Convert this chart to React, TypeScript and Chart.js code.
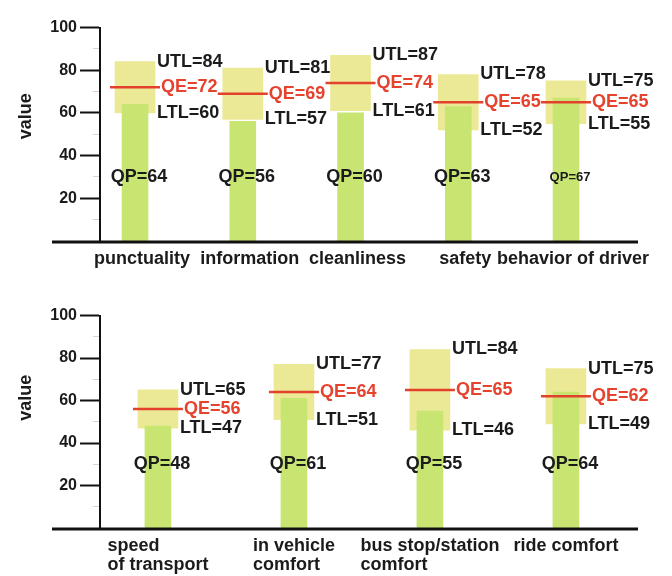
import React, { useEffect, useRef } from 'react';
import { Chart, registerables } from 'chart.js';

Chart.register(...registerables);

// ---------- data ----------
const topCategories: string[][] = [['punctuality'], ['information'], ['cleanliness'], ['safety'], ['behavior of driver']];
const topUTL = [84, 81, 87, 78, 75];
const topQE = [72, 69, 74, 65, 65];
const topLTL = [60, 57, 61, 52, 55];
const topQP = [64, 56, 60, 63, 67];

const bottomCategories: string[][] = [['speed', 'of transport'], ['in vehicle', 'comfort'], ['bus stop/station', 'comfort'], ['ride comfort']];
const bottomUTL = [65, 77, 84, 75];
const bottomQE = [56, 64, 65, 62];
const bottomLTL = [47, 51, 46, 49];
const bottomQP = [48, 61, 55, 64];

const yMajorTicks = [20, 40, 60, 80, 100];
const yMinorTicks = [10, 30, 50, 70, 90];
const yTitle = 'value';

// ---------- styles ----------
const FONT = '"Liberation Sans", Arial, Helvetica, sans-serif';
const GREEN = '#c8e572';
const YELLOW = 'rgba(228,224,110,0.72)';
const RED_LINE = '#e2412b';
const RED_TEXT = '#e6432f';
const INK = '#1b1b1b';
const QP_LABEL_LEVEL = 30;

type Spec = {
  cats: string[][];
  utl: number[];
  qe: number[];
  ltl: number[];
  qp: number[];
  qpSizes: number[];
  xMin: number;
  xMax: number;
  padTop: number;
  padBottom: number;
  titleShift: number;
  labelShift: number;
};

function makePlugin(s: Spec) {
  return {
    id: 'qualityLabels',
    afterDatasetsDraw(chart: any) {
      const { ctx, chartArea } = chart;
      const x = chart.scales.x;
      const y = chart.scales.y;
      const y0 = y.getPixelForValue(0);
      ctx.save();
      // thick base line
      ctx.strokeStyle = '#111';
      ctx.lineWidth = 3;
      ctx.beginPath();
      ctx.moveTo(chartArea.left - 48, y0 + 1);
      ctx.lineTo(chartArea.right, y0 + 1);
      ctx.stroke();

      // axis title
      ctx.save();
      ctx.translate(26, (chartArea.top + chartArea.bottom) / 2 + s.titleShift);
      ctx.rotate(-Math.PI / 2);
      ctx.textAlign = 'center';
      ctx.textBaseline = 'middle';
      ctx.font = `bold 18px ${FONT}`;
      ctx.fillStyle = INK;
      ctx.fillText(yTitle, 0, 0);
      ctx.restore();

      s.cats.forEach((lines, i) => {
        const cx = x.getPixelForValue(i + 1);
        const boxRight = cx + 20;
        ctx.textBaseline = 'middle';
        ctx.textAlign = 'left';
        ctx.font = `bold 18px ${FONT}`;
        ctx.fillStyle = INK;
        ctx.fillText(`UTL=${s.utl[i]}`, boxRight + 2, y.getPixelForValue(s.utl[i]));
        ctx.fillText(`LTL=${s.ltl[i]}`, boxRight + 2, y.getPixelForValue(s.ltl[i]));
        ctx.fillStyle = RED_TEXT;
        ctx.fillText(`QE=${s.qe[i]}`, boxRight + 6, y.getPixelForValue(s.qe[i]));
        ctx.fillStyle = INK;
        ctx.textAlign = 'center';
        ctx.font = `bold ${s.qpSizes[i]}px ${FONT}`;
        ctx.fillText(`QP=${s.qp[i]}`, cx + 4, y.getPixelForValue(QP_LABEL_LEVEL));

        // category label: block centred on the bar, lines left-aligned
        ctx.font = `bold 18px ${FONT}`;
        ctx.textBaseline = 'alphabetic';
        ctx.textAlign = 'left';
        const w = Math.max(...lines.map((l) => ctx.measureText(l).width));
        lines.forEach((l, k) => {
          ctx.fillText(l, cx - w / 2 + s.labelShift, y0 + 23 + k * 19);
        });
      });
      ctx.restore();
    },
  };
}

function makeConfig(s: Spec): any {
  return {
    type: 'bar',
    data: {
      datasets: [
        {
          type: 'scatter',
          data: s.qe.map((v, i) => ({ x: i + 1, y: v })),
          pointStyle: 'line',
          pointRadius: 25,
          borderColor: RED_LINE,
          pointBorderColor: RED_LINE,
          borderWidth: 2.5,
          pointBorderWidth: 2.5,
          order: 1,
        },
        {
          type: 'bar',
          data: s.qp.map((v, i) => ({ x: i + 1, y: [0, v] })),
          backgroundColor: GREEN,
          barThickness: 26,
          grouped: false,
          order: 2,
        },
        {
          type: 'bar',
          data: s.ltl.map((v, i) => ({ x: i + 1, y: [v, s.utl[i]] })),
          backgroundColor: YELLOW,
          barThickness: 40,
          grouped: false,
          order: 3,
        },
      ],
    },
    options: {
      responsive: false,
      animation: false,
      devicePixelRatio: 1,
      events: [],
      layout: { padding: { top: s.padTop, right: 34, bottom: s.padBottom, left: 0 } },
      plugins: { legend: { display: false }, tooltip: { enabled: false } },
      scales: {
        x: { type: 'linear', display: false, offset: false, min: s.xMin, max: s.xMax },
        y: {
          type: 'linear',
          position: 'left',
          weight: 1,
          min: 0,
          max: 100,
          afterBuildTicks: (sc: any) => {
            sc.ticks = yMajorTicks.map((v) => ({ value: v }));
          },
          afterFit: (sc: any) => {
            sc.width = 100;
          },
          border: { display: true, color: '#111', width: 2 },
          grid: { drawOnChartArea: false, drawTicks: true, tickLength: 20, tickColor: '#111', tickWidth: 2 },
          ticks: { color: INK, padding: 3, font: { family: FONT, size: 16, weight: 'bold' } },
          title: { display: false },
        },
        yMinor: {
          type: 'linear',
          position: 'left',
          weight: 0,
          min: 0,
          max: 100,
          afterBuildTicks: (sc: any) => {
            sc.ticks = yMinorTicks.map((v) => ({ value: v }));
          },
          afterFit: (sc: any) => {
            sc.width = 0;
          },
          border: { display: false },
          grid: { drawOnChartArea: false, drawTicks: true, tickLength: 7, tickColor: '#d6d6d6', tickWidth: 1 },
          ticks: { display: false },
        },
      },
    },
    plugins: [makePlugin(s)],
  };
}

const topSpec: Spec = {
  cats: topCategories,
  utl: topUTL,
  qe: topQE,
  ltl: topLTL,
  qp: topQP,
  qpSizes: [18, 18, 18, 18, 13],
  xMin: 0.675,
  xMax: 5.668,
  padTop: 16,
  padBottom: 47,
  titleShift: -18,
  labelShift: 7,
};

const bottomSpec: Spec = {
  cats: bottomCategories,
  utl: bottomUTL,
  qe: bottomQE,
  ltl: bottomLTL,
  qp: bottomQP,
  qpSizes: [18, 18, 18, 18],
  xMin: 0.574,
  xMax: 4.53,
  padTop: 15,
  padBottom: 48,
  titleShift: -24,
  labelShift: 0,
};

export default function App() {
  const topRef = useRef<HTMLCanvasElement | null>(null);
  const botRef = useRef<HTMLCanvasElement | null>(null);

  useEffect(() => {
    const c1 = new Chart(topRef.current as HTMLCanvasElement, makeConfig(topSpec));
    const c2 = new Chart(botRef.current as HTMLCanvasElement, makeConfig(bottomSpec));
    return () => {
      c1.destroy();
      c2.destroy();
    };
  }, []);

  return (
    <div style={{ position: 'absolute', left: 0, top: 0, width: 672, height: 576, background: '#fff' }}>
      <canvas ref={topRef} width={672} height={288} style={{ display: 'block', width: 672, height: 288 }} />
      <canvas ref={botRef} width={672} height={288} style={{ display: 'block', width: 672, height: 288 }} />
    </div>
  );
}
